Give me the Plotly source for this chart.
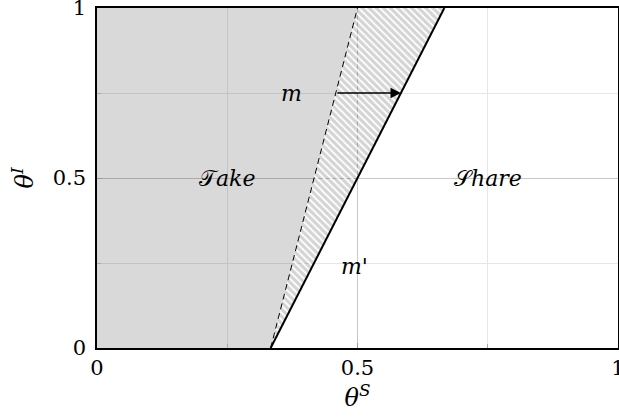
import plotly.graph_objects as go

# Region boundaries in the (theta_S, theta_I) unit square
theta_lo = 1 / 3            # both boundaries start here at theta_I = 0
old_top = 0.5               # dashed boundary reaches theta_I = 1 here
new_top = 2 / 3             # solid boundary reaches theta_I = 1 here
arrow_level = 0.75          # height of the shift arrow

tick_vals = [0, 0.5, 1]
tick_text = ["0", "0.5", "1"]

region_labels = ["𝒯<i>ake</i>", "𝒮<i>hare</i>"]
region_x = [0.25, 0.75]
region_y = [0.5, 0.5]

FONT = "DejaVu Serif"

fig = go.Figure()

# Take region (left of the dashed boundary)
fig.add_trace(go.Scatter(
    x=[0, theta_lo, old_top, 0, 0], y=[0, 0, 1, 1, 0],
    mode="lines", line=dict(width=0), fill="toself",
    fillcolor="rgba(0,0,0,0.15)", hoverinfo="skip", showlegend=False))

# Hatched band between the old and new boundary
fig.add_trace(go.Scatter(
    x=[theta_lo, old_top, new_top, theta_lo], y=[0, 1, 1, 0],
    mode="lines", line=dict(width=0), fill="toself",
    fillcolor="rgba(0,0,0,0.15)",
    fillpattern=dict(shape="\\", fgcolor="white", bgcolor="rgba(0,0,0,0.17)",
                     size=5, solidity=0.35, fillmode="replace"),
    hoverinfo="skip", showlegend=False))

# Old boundary m (dashed) and new boundary m' (solid)
fig.add_trace(go.Scatter(
    x=[theta_lo, old_top], y=[0, 1], mode="lines",
    line=dict(color="black", width=1, dash="6px,4px"),
    hoverinfo="skip", showlegend=False))
fig.add_trace(go.Scatter(
    x=[theta_lo, new_top], y=[0, 1], mode="lines",
    line=dict(color="black", width=2),
    hoverinfo="skip", showlegend=False))

x_old = theta_lo + arrow_level * (old_top - theta_lo)
x_new = theta_lo + arrow_level * (new_top - theta_lo)

annotations = [
    dict(x=x_new, y=arrow_level, ax=x_old, ay=arrow_level,
         xref="x", yref="y", axref="x", ayref="y",
         showarrow=True, arrowhead=2, arrowsize=1.3, arrowwidth=1.6,
         arrowcolor="black", text=""),
    dict(x=0.374, y=arrow_level, text="<i>m</i>", showarrow=False,
         font=dict(family=FONT, size=22, color="black")),
    dict(x=0.495, y=0.24, text="<i>m'</i>", showarrow=False,
         font=dict(family=FONT, size=22, color="black")),
]
for lbl, lx, ly in zip(region_labels, region_x, region_y):
    annotations.append(dict(x=lx, y=ly, text=lbl, showarrow=False,
                            font=dict(family=FONT, size=22, color="black")))

axis_common = dict(
    range=[0, 1], tickvals=tick_vals, ticktext=tick_text,
    showgrid=True, gridcolor="#c8c8c8", gridwidth=1,
    minor=dict(tickvals=[0.25, 0.75], showgrid=True, gridcolor="#e6e6e6",
               gridwidth=1, ticks="inside", ticklen=4, tickcolor="#aaaaaa"),
    ticks="inside", ticklen=5, tickcolor="#999999",
    showline=True, linecolor="black", linewidth=1.5, mirror=True,
    zeroline=False, fixedrange=True, ticklabeloverflow="allow", automargin=False,
    tickfont=dict(family=FONT, size=21, color="black"),
)

fig.update_layout(
    width=619, height=419,
    margin=dict(l=97, r=1, t=8, b=71),
    plot_bgcolor="white", paper_bgcolor="white",
    xaxis=dict(**axis_common, title=dict(text="<i>θ<sup>S</sup></i>", standoff=8,
               font=dict(family=FONT, size=24, color="black"))),
    yaxis=dict(**axis_common, ticklabelstandoff=5,
               title=dict(text="<i>θ<sup>I</sup></i>", standoff=12,
               font=dict(family=FONT, size=24, color="black"))),
    annotations=annotations,
)

fig.write_html("out.html")
